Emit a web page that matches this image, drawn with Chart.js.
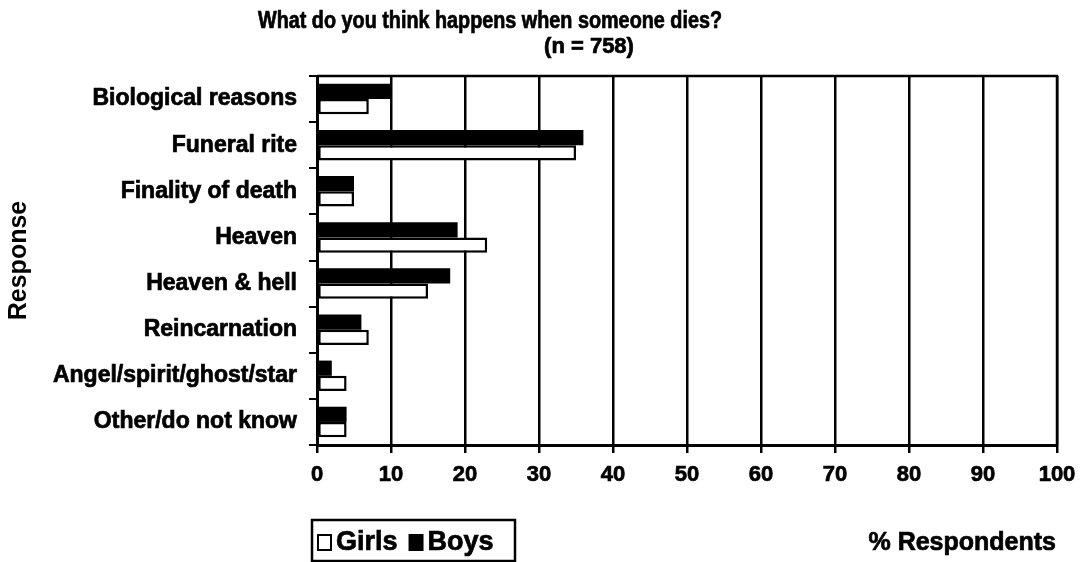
<!DOCTYPE html>
<html>
<head>
<meta charset="utf-8">
<script src="https://cdn.jsdelivr.net/npm/chart.js@4/dist/chart.umd.min.js"></script>
<style>
  html, body { margin: 0; padding: 0; background: #fff; }
  #wrap { width: 1091px; height: 562px; position: relative; }
</style>
</head>
<body>
<div id="wrap"><canvas id="c"></canvas></div>
<script>
// Survey responses, percent of respondents by gender
const categories = [
  'Biological reasons',
  'Funeral rite',
  'Finality of death',
  'Heaven',
  'Heaven & hell',
  'Reincarnation',
  'Angel/spirit/ghost/star',
  'Other/do not know'
];
const boys  = [10, 36, 5, 19, 18, 6, 2, 4];
const girls = [7, 35, 5, 23, 15, 7, 4, 4];
const xTicks = [0, 10, 20, 30, 40, 50, 60, 70, 80, 90, 100];

const titleText = 'What do you think happens when someone dies?';
const subtitleText = '(n = 758)';
const yTitle = 'Response';
const xTitle = '% Respondents';

const FONT = '"Liberation Sans", Arial, sans-serif';
const HEAVY = 0.7;

// Draw bold text with a thin outline so it reads as heavy as a printed label
function heavyText(ctx, text, x, y) {
  ctx.fillText(text, x, y);
  ctx.lineWidth = HEAVY;
  ctx.strokeText(text, x, y);
}

// Bold text squeezed horizontally to a given width, centred on (cx, cy)
function condensedText(ctx, text, size, width, cx, cy) {
  ctx.font = 'bold ' + size + 'px ' + FONT;
  const w = ctx.measureText(text).width;
  const k = Math.min(1, width / w);
  ctx.save();
  ctx.translate(cx, cy);
  ctx.scale(k, 1);
  ctx.textAlign = 'center';
  heavyText(ctx, text, 0, 0);
  ctx.restore();
}

// Title, frame, legend box and the x-axis caption
const decorations = {
  id: 'decorations',
  afterDraw(chart) {
    const ctx = chart.ctx;
    const a = chart.chartArea;
    ctx.save();
    ctx.strokeStyle = '#000';
    ctx.lineWidth = 2.5;
    ctx.beginPath();
    ctx.moveTo(a.left, a.top);
    ctx.lineTo(a.right, a.top);
    ctx.lineTo(a.right, a.bottom);
    ctx.stroke();

    ctx.fillStyle = '#000';
    ctx.strokeStyle = '#000';
    ctx.textBaseline = 'middle';
    condensedText(ctx, titleText, 23, 464, 490, 22);
    condensedText(ctx, subtitleText, 22, 100, 589, 47);

    ctx.textAlign = 'right';
    ctx.font = 'bold 25px ' + FONT;
    heavyText(ctx, xTitle, 1056, 543);

    // legend box, Girls first
    ctx.lineWidth = 2.5;
    ctx.strokeRect(312, 520, 203, 41);
    const items = chart.data.datasets.slice().reverse();
    let x = 318;
    ctx.textAlign = 'left';
    ctx.font = 'bold 27px ' + FONT;
    items.forEach(ds => {
      ctx.fillStyle = ds.backgroundColor;
      ctx.fillRect(x, 535, 13, 15);
      ctx.strokeStyle = '#000';
      ctx.lineWidth = 2;
      ctx.strokeRect(x, 535, 13, 15);
      ctx.fillStyle = '#000';
      heavyText(ctx, ds.label, x + 18, 543);
      x += 18 + ctx.measureText(ds.label).width + 12;
    });
    ctx.restore();
  }
};

new Chart(document.getElementById('c'), {
  type: 'bar',
  data: {
    labels: categories,
    datasets: [
      { label: 'Boys', data: boys, backgroundColor: '#000', borderColor: '#000', borderWidth: 0 },
      { label: 'Girls', data: girls, backgroundColor: '#fff', borderColor: '#000', borderWidth: 2.5, borderSkipped: false }
    ]
  },
  options: {
    indexAxis: 'y',
    responsive: true,
    maintainAspectRatio: false,
    animation: false,
    categoryPercentage: 0.66,
    barPercentage: 1.0,
    layout: { padding: { left: 0, right: 34, top: 76, bottom: 0 } },
    plugins: {
      legend: { display: false },
      title: { display: false },
      tooltip: { enabled: false }
    },
    scales: {
      x: {
        type: 'linear',
        min: 0,
        max: 100,
        afterBuildTicks(scale) { scale.ticks = xTicks.map(v => ({ value: v })); },
        afterFit(scale) { scale.height = 117; },
        ticks: {
          color: '#000',
          font: { family: FONT, size: 22, weight: 'bold' },
          textStrokeColor: '#000',
          textStrokeWidth: HEAVY,
          padding: 9,
          maxRotation: 0
        },
        grid: { color: '#000', lineWidth: 2.5, tickLength: 8, tickColor: '#000' },
        border: { color: '#000', width: 3 }
      },
      y: {
        type: 'category',
        afterFit(scale) { scale.width = 317; },
        ticks: {
          color: '#000',
          font: { family: FONT, size: 23, weight: 'bold' },
          textStrokeColor: '#000',
          textStrokeWidth: HEAVY,
          padding: 12
        },
        grid: { drawOnChartArea: false, color: '#000', lineWidth: 2, tickLength: 8, offset: true },
        border: { color: '#000', width: 3 },
        title: {
          display: true,
          text: yTitle,
          color: '#000',
          font: { family: FONT, size: 25, weight: 'bold' }
        }
      }
    }
  },
  plugins: [decorations]
});
</script>
</body>
</html>
